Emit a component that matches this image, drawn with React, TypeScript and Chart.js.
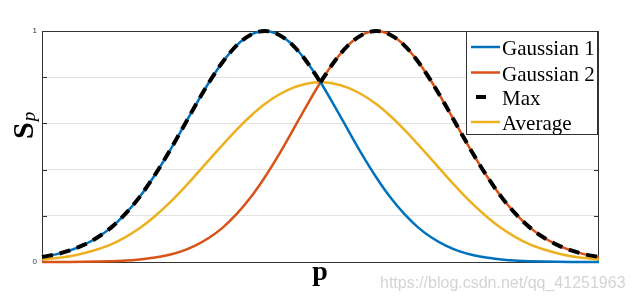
import { useEffect, useRef } from 'react';
import { Chart, registerables } from 'chart.js';
Chart.register(...registerables);

const positions = [0,1,2,3,4,5,6,7,8,9,10,11,12,13,14,15,16,17,18,19,20,21,22,23,24,25,26,27,28,29,30,31,32,33,34,35,36,37,38,39,40];
const gaussian1 = [0.022,0.033,0.05,0.074,0.107,0.151,0.209,0.281,0.367,0.464,0.569,0.676,0.778,0.868,0.939,0.984,1,0.984,0.939,0.868,0.778,0.676,0.569,0.464,0.367,0.281,0.209,0.150,0.105,0.071,0.046,0.029,0.018,0.011,0.006,0.0035,0.002,0.001,0.0005,0.0003,0.0001];
const gaussian2 = [0.0001,0.0003,0.0005,0.001,0.002,0.0035,0.006,0.011,0.018,0.029,0.046,0.071,0.105,0.150,0.209,0.281,0.367,0.464,0.569,0.676,0.778,0.868,0.939,0.984,1,0.984,0.939,0.868,0.778,0.676,0.569,0.464,0.367,0.281,0.209,0.151,0.107,0.074,0.05,0.033,0.022];
const maxVals = [0.022,0.033,0.05,0.074,0.107,0.151,0.209,0.281,0.367,0.464,0.569,0.676,0.778,0.868,0.939,0.984,1,0.984,0.939,0.868,0.778,0.868,0.939,0.984,1,0.984,0.939,0.868,0.778,0.676,0.569,0.464,0.367,0.281,0.209,0.151,0.107,0.074,0.05,0.033,0.022];
const averageVals = [0.011,0.017,0.025,0.038,0.055,0.077,0.108,0.146,0.193,0.247,0.308,0.374,0.442,0.509,0.574,0.633,0.684,0.724,0.754,0.772,0.778,0.772,0.754,0.724,0.684,0.633,0.574,0.509,0.442,0.374,0.308,0.247,0.193,0.146,0.108,0.077,0.055,0.038,0.025,0.017,0.011];
const yTickLabels = ['0', '1'];
const legendLabels = ['Gaussian 1', 'Gaussian 2', 'Max', 'Average'];
const xTitle = 'p';
const yTitleMain = 'S';
const yTitleSub = 'p';
const watermark = 'https://blog.csdn.net/qq_41251963';

const BLUE = '#0072BD';
const ORANGE = '#D95319';
const YELLOW = '#EDB120';
const BLACK = '#000000';

const toPts = (vals: number[], from = 0, to = vals.length - 1) =>
  positions.slice(from, to + 1).map((x, i) => ({ x, y: vals[from + i] }));

const decoPlugin = {
  id: 'deco',
  beforeDatasetsDraw(chart: any) {
    const { ctx, chartArea: a, scales } = chart;
    const y = scales.y;
    ctx.save();
    ctx.strokeStyle = '#333';
    ctx.lineWidth = 1;
    for (let v = 0; v <= 1.0001; v += 0.2) {
      const py = Math.round(y.getPixelForValue(v)) + 0.5;
      ctx.beginPath();
      ctx.moveTo(a.left, py); ctx.lineTo(a.left + 5, py);
      ctx.moveTo(a.right, py); ctx.lineTo(a.right - 5, py);
      ctx.stroke();
    }
    ctx.strokeRect(Math.round(a.left) + 0.5, Math.round(a.top) + 0.5, Math.round(a.right - a.left) - 1, Math.round(a.bottom - a.top));
    ctx.restore();
  },
  afterDraw(chart: any) {
    const { ctx } = chart;
    ctx.save();
    // legend
    const lx = 466.5, ly = 31.5, lw = 131, lh = 103;
    ctx.fillStyle = '#fff';
    ctx.fillRect(lx, ly, lw, lh);
    ctx.strokeStyle = '#333';
    ctx.lineWidth = 1;
    ctx.strokeRect(lx, ly, lw, lh);
    const rows = [47, 72.5, 97, 122];
    const colors = [BLUE, ORANGE, BLACK, YELLOW];
    legendLabels.forEach((lab, i) => {
      ctx.beginPath();
      if (i === 2) {
        ctx.lineWidth = 4;
        ctx.moveTo(476, rows[i]); ctx.lineTo(486, rows[i]);
      } else {
        ctx.lineWidth = 2.5;
        ctx.moveTo(471, rows[i]); ctx.lineTo(500, rows[i]);
      }
      ctx.strokeStyle = colors[i];
      ctx.stroke();
      ctx.fillStyle = '#000';
      ctx.font = '21px "Liberation Serif"';
      ctx.textAlign = 'left';
      ctx.textBaseline = 'alphabetic';
      ctx.fillText(lab, 502, rows[i] + 8);
    });
    // y title
    ctx.save();
    ctx.translate(33, 139);
    ctx.rotate(-Math.PI / 2);
    ctx.fillStyle = '#000';
    ctx.font = 'bold 30px "Liberation Serif"';
    ctx.textAlign = 'left';
    ctx.textBaseline = 'alphabetic';
    ctx.fillText(yTitleMain, 0, 0);
    const w = ctx.measureText(yTitleMain).width;
    ctx.font = 'italic 19px "Liberation Serif"';
    ctx.fillText(yTitleSub, w + 1, 2);
    ctx.restore();
    // x title
    ctx.fillStyle = '#000';
    ctx.font = 'bold 28px "Liberation Serif"';
    ctx.textAlign = 'center';
    ctx.textBaseline = 'alphabetic';
    ctx.fillText(xTitle, 320, 280);
    // watermark
    ctx.fillStyle = '#d4d4d4';
    ctx.font = '16px "Liberation Sans"';
    ctx.textAlign = 'left';
    ctx.fillText(watermark, 380, 288);
    ctx.restore();
  },
};

export default function App() {
  const ref = useRef<HTMLCanvasElement>(null);
  useEffect(() => {
    if (!ref.current) return;
    const common = { pointRadius: 0, cubicInterpolationMode: 'monotone' as const, fill: false, clip: 4 };
    const chart = new Chart(ref.current, {
      type: 'line',
      data: {
        datasets: [
          { label: legendLabels[0], data: toPts(gaussian1), borderColor: BLUE, borderWidth: 2.5, order: 1, ...common },
          { label: legendLabels[1], data: toPts(gaussian2), borderColor: ORANGE, borderWidth: 2.5, order: 1, ...common },
          { label: legendLabels[2], data: toPts(maxVals, 0, 20), borderColor: BLACK, borderWidth: 4, borderDash: [11, 7], order: 0, ...common },
          { label: legendLabels[2] + ' ', data: toPts(maxVals, 20, 40), borderColor: BLACK, borderWidth: 4, borderDash: [11, 7], order: 0, ...common },
          { label: legendLabels[3], data: toPts(averageVals), borderColor: YELLOW, borderWidth: 2.5, order: 2, ...common },
        ],
      },
      options: {
        animation: false,
        responsive: false,
        devicePixelRatio: 1,
        layout: { padding: { top: 31, right: 33, bottom: 39, left: 0 } },
        plugins: { legend: { display: false }, tooltip: { enabled: false } },
        scales: {
          x: { type: 'linear', min: 0, max: 40, display: false },
          y: {
            min: 0, max: 1,
            ticks: {
              stepSize: 0.2,
              padding: 5,
              color: '#333',
              font: { size: 8, family: '"Liberation Sans"' },
              callback: (v: any) => (Math.abs(v) < 1e-9 ? yTickLabels[0] : Math.abs(v - 1) < 1e-9 ? yTickLabels[1] : ''),
            },
            grid: { color: '#e2e2e2', drawTicks: false },
            border: { display: false },
            afterFit: (s: any) => { s.width = 42; },
          },
        },
      },
      plugins: [decoPlugin],
    });
    return () => chart.destroy();
  }, []);
  return (
    <div style={{ position: 'fixed', left: 0, top: 0, width: 632, height: 301, background: '#fff' }}>
      <canvas ref={ref} width={632} height={301} />
    </div>
  );
}
